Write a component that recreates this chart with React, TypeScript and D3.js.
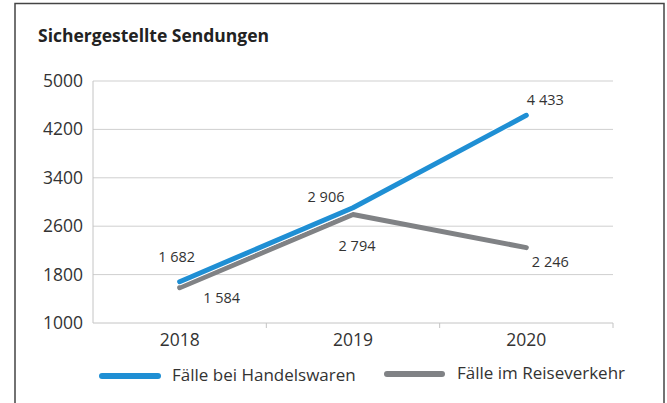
import React from "react";
import * as d3 from "d3";

const years = ["2018", "2019", "2020"];
const handelswaren = [1682, 2906, 4433];
const reiseverkehr = [1584, 2794, 2246];
const yTicks = [1000, 1800, 2600, 3400, 4200, 5000];

const seriesNames = ["Fälle bei Handelswaren", "Fälle im Reiseverkehr"];
const colors = ["#1f8fd4", "#808285"];

// label offsets from the point (dx, dy of the baseline)
const labelOffsets = [
  [[-3, -20], [-27, -6], [19, -10]],
  [[42, 15], [4, 37], [24, 19]],
];

const W = 667,
  H = 403;
const margin = { left: 93, right: 54, top: 81, bottom: 80 };
const font = "'Open Sans', 'Noto Sans', sans-serif";
const fmt = (v: number) => d3.format(",")(v).replace(",", " ");

export default function App() {
  const x = d3
    .scaleBand()
    .domain(years)
    .range([margin.left, W - margin.right]);
  const y = d3
    .scaleLinear()
    .domain([1000, 5000])
    .range([H - margin.bottom, margin.top]);
  const cx = (d: string) => (x(d) as number) + x.bandwidth() / 2;

  const line = d3
    .line<number>()
    .x((_, i) => cx(years[i]))
    .y((d) => y(d));

  const series = [handelswaren, reiseverkehr];
  const bottom = H - margin.bottom;
  const bounds = years.map((d) => x(d) as number).concat([W - margin.right]);

  return (
    <svg
      width={W}
      height={H}
      style={{ position: "absolute", left: 0, top: 0 }}
      fontFamily={font}
    >
      <rect x={0} y={0} width={W} height={H} fill="#fff" />
      <rect
        x={15}
        y={3.5}
        width={649}
        height={H + 10}
        fill="none"
        stroke="#444"
        strokeWidth={1.5}
      />
      <text x={38} y={42} fontSize={17.5} fontWeight="bold" fill="#222">
        Sichergestellte Sendungen
      </text>

      {yTicks.map((t) => (
        <g key={t}>
          {t > 1000 && (
            <line
              x1={margin.left}
              x2={W - margin.right}
              y1={y(t)}
              y2={y(t)}
              stroke="#cfcfcf"
              strokeWidth={1}
            />
          )}
          <text
            x={83}
            y={y(t) + 6}
            textAnchor="end"
            fontSize={17.5}
            fill="#333"
          >
            {t}
          </text>
        </g>
      ))}
      <line
        x1={margin.left}
        x2={margin.left}
        y1={margin.top}
        y2={bottom}
        stroke="#c4c4c4"
      />
      <line
        x1={margin.left}
        x2={W - margin.right}
        y1={bottom}
        y2={bottom}
        stroke="#c4c4c4"
      />
      {bounds.slice(1).map((b, i) => (
        <line key={i} x1={b} x2={b} y1={bottom} y2={bottom + 5} stroke="#c4c4c4" />
      ))}
      {years.map((d) => (
        <text
          key={d}
          x={cx(d)}
          y={bottom + 23}
          textAnchor="middle"
          fontSize={17.5}
          fill="#333"
        >
          {d}
        </text>
      ))}

      {/* gray first, blue on top with a white halo */}
      <path
        d={line(reiseverkehr) || ""}
        fill="none"
        stroke={colors[1]}
        strokeWidth={5}
        strokeLinecap="round"
        strokeLinejoin="round"
      />
      <path
        d={line(handelswaren) || ""}
        fill="none"
        stroke="#fff"
        strokeWidth={7}
        strokeLinecap="round"
        strokeLinejoin="round"
      />
      <path
        d={line(handelswaren) || ""}
        fill="none"
        stroke={colors[0]}
        strokeWidth={5}
        strokeLinecap="round"
        strokeLinejoin="round"
      />

      {series.map((s, si) =>
        s.map((v, i) => (
          <text
            key={si + "-" + i}
            x={cx(years[i]) + labelOffsets[si][i][0]}
            y={y(v) + labelOffsets[si][i][1]}
            textAnchor="middle"
            fontSize={14.5}
            fill="#333"
          >
            {fmt(v)}
          </text>
        ))
      )}

      {/* legend */}
      <g>
        <line
          x1={102}
          x2={158}
          y1={376}
          y2={376}
          stroke={colors[0]}
          strokeWidth={6}
          strokeLinecap="round"
        />
        <text x={172} y={381} fontSize={17} fill="#333">
          {seriesNames[0]}
        </text>
        <line
          x1={387}
          x2={442}
          y1={374}
          y2={374}
          stroke={colors[1]}
          strokeWidth={6}
          strokeLinecap="round"
        />
        <text x={457} y={379} fontSize={17} fill="#333">
          {seriesNames[1]}
        </text>
      </g>
    </svg>
  );
}
